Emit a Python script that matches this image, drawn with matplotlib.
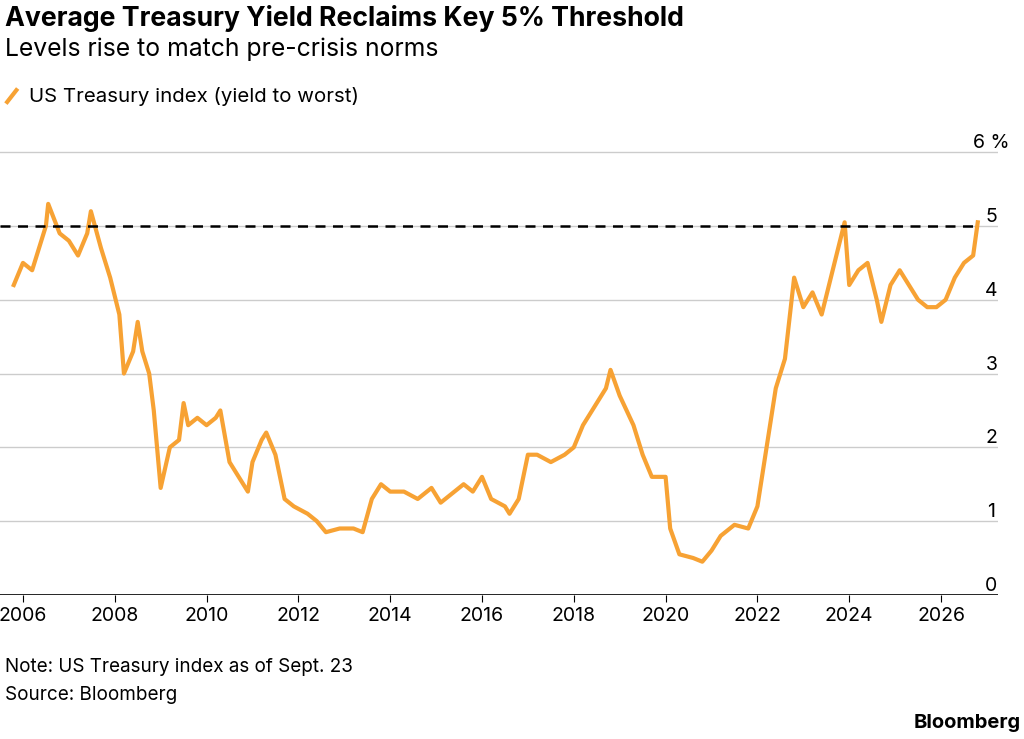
import matplotlib
matplotlib.use("Agg")
import matplotlib.pyplot as plt

years = [2005.8,2006.0,2006.2,2006.4,2006.5,2006.55,2006.8,2007.0,2007.2,2007.4,2007.48,2007.7,2007.9,2008.1,2008.2,2008.4,2008.5,2008.6,2008.75,2008.85,2009.0,2009.2,2009.4,2009.5,2009.6,2009.8,2010.0,2010.2,2010.3,2010.5,2010.7,2010.9,2011.0,2011.2,2011.3,2011.5,2011.7,2011.9,2012.2,2012.4,2012.6,2012.9,2013.2,2013.4,2013.6,2013.8,2014.0,2014.3,2014.6,2014.9,2015.1,2015.4,2015.6,2015.8,2016.0,2016.2,2016.5,2016.6,2016.8,2017.0,2017.2,2017.5,2017.8,2018.0,2018.2,2018.5,2018.7,2018.8,2019.0,2019.3,2019.5,2019.7,2020.0,2020.1,2020.3,2020.6,2020.8,2021.0,2021.2,2021.5,2021.8,2022.0,2022.2,2022.4,2022.6,2022.8,2023.0,2023.2,2023.4,2023.6,2023.8,2023.9,2024.0,2024.2,2024.4,2024.6,2024.7,2024.9,2025.1,2025.3,2025.5,2025.7,2025.9,2026.1,2026.3,2026.5,2026.7,2026.8]
yields = [4.2,4.5,4.4,4.8,5.0,5.3,4.9,4.8,4.6,4.9,5.2,4.7,4.3,3.8,3.0,3.3,3.7,3.3,3.0,2.5,1.45,2.0,2.1,2.6,2.3,2.4,2.3,2.4,2.5,1.8,1.6,1.4,1.8,2.1,2.2,1.9,1.3,1.2,1.1,1.0,0.85,0.9,0.9,0.85,1.3,1.5,1.4,1.4,1.3,1.45,1.25,1.4,1.5,1.4,1.6,1.3,1.2,1.1,1.3,1.9,1.9,1.8,1.9,2.0,2.3,2.6,2.8,3.05,2.7,2.3,1.9,1.6,1.6,0.9,0.55,0.5,0.45,0.6,0.8,0.95,0.9,1.2,2.0,2.8,3.2,4.3,3.9,4.1,3.8,4.3,4.8,5.05,4.2,4.4,4.5,4.0,3.7,4.2,4.4,4.2,4.0,3.9,3.9,4.0,4.3,4.5,4.6,5.05]
xticks = list(range(2006, 2027, 2))
yticks = [0,1,2,3,4,5,6]
ylabels = ["0","1","2","3","4","5","6 %"]
orange = "#f7a234"
plt.rcParams['font.family'] = ['Inter', 'DejaVu Sans']

fig = plt.figure(figsize=(10.24,7.39), dpi=100)
ax = fig.add_axes([0.0, 0.195, 0.975, 0.614])
ax.plot(years, yields, color=orange, lw=3, solid_joinstyle="round")
ax.hlines(5, 2005.5, 2026.8, color="black", ls=(0,(4,3)), lw=1.8, zorder=3)
ax.set_xlim(2005.5, 2027.25)
ax.set_ylim(0, 6.15)
for y in range(1,7):
    ax.axhline(y, color="#cccccc", lw=1, zorder=0)
ax.axhline(0, color="black", lw=1.2)
for s in ax.spines.values():
    s.set_visible(False)
ax.set_xticks(xticks)
ax.set_xticklabels([str(x) for x in xticks], fontsize=14)
ax.tick_params(axis="x", length=5, color="black", pad=4)
ax.yaxis.tick_right()
ax.set_yticks(yticks)
ax.set_yticklabels(ylabels, fontsize=14)
ax.tick_params(axis="y", length=0, pad=-5)
for lbl in ax.get_yticklabels():
    lbl.set_verticalalignment("bottom")
    lbl.set_horizontalalignment("center")

fig.text(0.005, 0.975, "Average Treasury Yield Reclaims Key 5% Threshold", fontsize=19.2, fontweight="bold", va="center")
fig.text(0.005, 0.934, "Levels rise to match pre-crisis norms", fontsize=17.8, va="center")
fig.lines.append(matplotlib.lines.Line2D([0.007,0.016],[0.862,0.878], transform=fig.transFigure, color=orange, lw=3))
fig.text(0.028, 0.87, "US Treasury index (yield to worst)", fontsize=14.7, va="center")
fig.text(0.005, 0.097, "Note: US Treasury index as of Sept. 23", fontsize=13.6, va="center")
fig.text(0.005, 0.06, "Source: Bloomberg", fontsize=13.6, va="center")
fig.text(0.997, 0.022, "Bloomberg", fontsize=14.5, fontweight="bold", ha="right", va="center")
fig.savefig("out.png", dpi=100)
